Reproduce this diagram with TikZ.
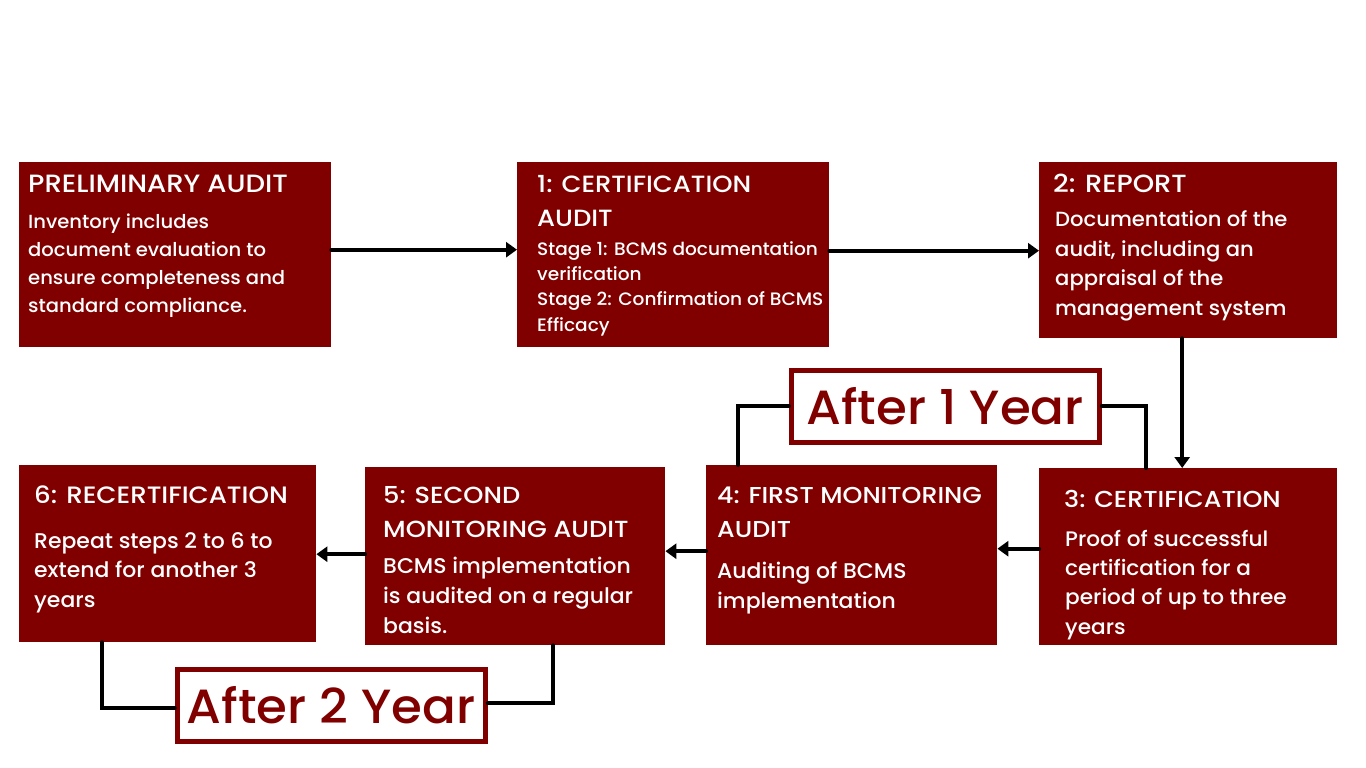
\documentclass[tikz,border=0pt]{standalone}
\usepackage{fontspec}
\setmainfont{Poppins}
\newfontfamily\ttlf{Poppins Medium}[FakeStretch=1.1]
\newfontfamily\bdyf{Poppins Medium}[FakeStretch=1.03]
\newfontfamily\yrf{Poppins Medium}[FakeStretch=1.04]
\usetikzlibrary{arrows.meta,calc}
\definecolor{dred}{HTML}{800000}
\begin{document}
\begin{tikzpicture}[x=1pt,y=-1pt,
  box/.style={fill=dred, draw=none, inner sep=0pt, anchor=north west},
  ttl/.style={text=white, anchor=north west, inner sep=0pt, align=left, font=\ttlf\fontsize{#1}{34}\selectfont},
  ttl/.default=25,
  bdy/.style 2 args={text=white, anchor=north west, inner sep=0pt, align=left, font=\bdyf\fontsize{#1}{#2}\selectfont},
  yrbox/.style={draw=dred, line width=5pt, text=dred, inner sep=0pt, minimum width=308pt, minimum height=72pt, font=\yrf\fontsize{48}{50}\selectfont},
  conn/.style={draw=black, line width=4pt, line cap=round},
  arr/.style={conn, -{Triangle[length=11pt,width=15pt]}}
]
\useasboundingbox (0,0) rectangle (1366,768);
\fill[white] (0,0) rectangle (1366,768);

% boxes
\node[box, minimum width=312pt, minimum height=185pt] (prelim) at (19,162) {};
\node[box, minimum width=312pt, minimum height=185pt] (cert1) at (517,162) {};
\node[box, minimum width=298pt, minimum height=176pt] (report) at (1039,162) {};
\node[box, minimum width=298pt, minimum height=177pt] (cert3) at (1039,468) {};
\node[box, minimum width=291pt, minimum height=180pt] (m4) at (706,465) {};
\node[box, minimum width=300pt, minimum height=178pt] (m5) at (365,467) {};
\node[box, minimum width=297pt, minimum height=177pt] (m6) at (19,465) {};

% texts
\node[ttl] (tprelim) at (28,168.7) {\strut PRELIMINARY AUDIT};
\node[bdy={19}{28}] (bprelim) at (28,208.7) {\strut Inventory includes\\document evaluation to\\ensure completeness and\\standard compliance.};

\node[ttl=23.5] (tcert1) at (537,168) {\strut 1: CERTIFICATION\\AUDIT};
\node[bdy={18}{25.3}] (bcert1) at (537,237.3) {\strut Stage 1: BCMS documentation\\verification\\Stage 2: Confirmation of BCMS\\Efficacy};

\node[ttl=24.8] (treport) at (1053,168) {\strut 2: REPORT};
\node[bdy={20.5}{29.5}] (breport) at (1055,206) {\strut Documentation of the\\audit, including an\\appraisal of the\\management system};

\node[ttl=23.1] (tcert3) at (1064,483) {\strut 3: CERTIFICATION};
\node[bdy={21}{29.3}] (bcert3) at (1065,525.5) {\strut Proof of successful\\certification for a\\period of up to three\\years};

\node[ttl=23] (tm4) at (717,479.3) {\strut 4: FIRST MONITORING\\AUDIT};
\node[bdy={21.3}{30}] (bm4) at (717,557) {\strut Auditing of BCMS\\implementation};

\node[ttl=23.3] (tm5) at (383,479.3) {\strut 5: SECOND\\MONITORING AUDIT};
\node[bdy={21.3}{30}] (bm5) at (383,552) {\strut BCMS implementation\\is audited on a regular\\basis.};

\node[ttl=23.7] (tm6) at (34,479.3) {\strut 6: RECERTIFICATION};
\node[bdy={21.3}{29.5}] (bm6) at (34,527.3) {\strut Repeat steps 2 to 6 to\\extend for another 3\\years};

% year boxes
\node[yrbox] (yr1) at (945.3,406.2) {After 1 Year};
\node[yrbox] (yr2) at (331.3,705.3) {After 2 Year};

% connectors
\coordinate (a0) at ($(prelim.east)+(0,-5)$);
\draw[arr] (a0) -- (a0 -| cert1.west);
\coordinate (a1) at ($(cert1.east)+(0,-4)$);
\draw[arr] (a1) -- (a1 -| report.west);
\coordinate (a2) at ($(report.south)+(-6,0)$);
\draw[arr] (a2) -- (a2 |- cert3.north);
\coordinate (a3) at ($(cert3.west)+(0,-8)$);
\draw[arr] (a3) -- (a3 -| m4.east);
\coordinate (a4) at ($(m4.west)+(0,-4)$);
\draw[arr] (a4) -- (a4 -| m5.east);
\coordinate (a5) at ($(m5.west)+(0,-2)$);
\draw[arr] (a5) -- (a5 -| m6.east);

\draw[conn] ($(m4.north west)+(32,0)$) |- (yr1.west);
\draw[conn] (yr1.east) -| ($(cert3.north west)+(107,0)$);
\draw[conn] ($(m6.south west)+(83,0)$) |- ($(yr2.west)+(0,3)$);
\draw[conn] ($(yr2.east)+(0,-2)$) -| ($(m5.south west)+(188,0)$);
\end{tikzpicture}
\end{document}
